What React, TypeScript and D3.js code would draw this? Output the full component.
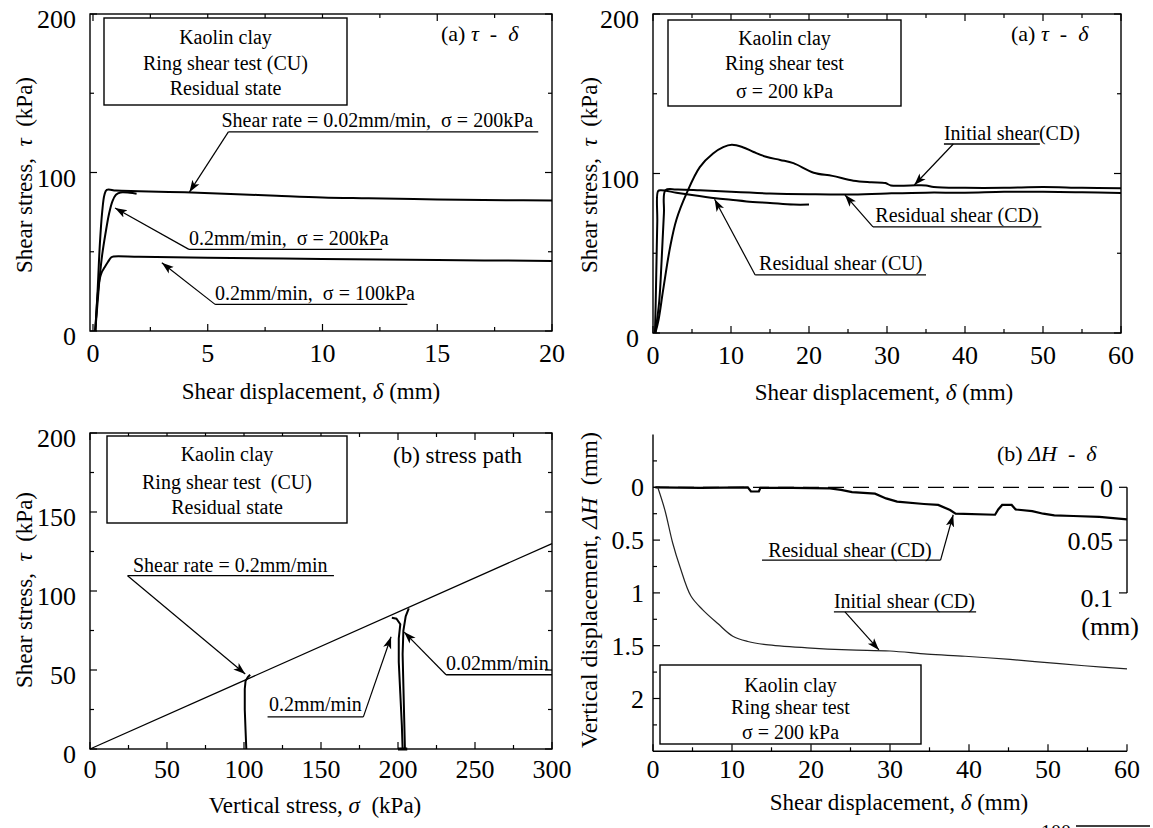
import * as d3 from "d3";

type Pt = [number, number];

const W = 1153;
const H = 828;
const serif = "Liberation Serif, Times New Roman, Times, serif";

// ---- top left: (a) tau - delta, CU residual state
const p1XTicks = [0, 5, 10, 15, 20];
const p1XMinor = [2.5, 7.5, 12.5, 17.5];
const p1YTicks = [0, 100, 200];
const p1YMinor = [50, 150];
const rate002Sigma200: Pt[] = [
  [0.1, 0], [0.2, 25], [0.3, 55], [0.4, 75], [0.5, 86], [0.6, 89], [1.0, 88.6],
  [2, 88.2], [4, 87.5], [6, 86.5], [8, 85.3], [10, 84.2], [12, 83.7], [15, 83], [18, 82.5], [20, 82.3],
];
const rate02Sigma200: Pt[] = [
  [0.1, 0], [0.2, 18], [0.3, 35], [0.4, 48], [0.55, 62], [0.7, 74], [0.85, 82],
  [1.0, 86], [1.2, 87.4], [1.6, 87.2], [1.9, 86.6],
];
const rate02Sigma100: Pt[] = [
  [0.1, 0], [0.15, 12], [0.2, 22], [0.28, 32], [0.38, 37], [0.5, 40], [0.65, 43.5],
  [0.8, 46.5], [0.9, 47], [2, 46.8], [5, 46.2], [10, 45.5], [15, 44.8], [20, 44.2],
];

// ---- top right: (a) tau - delta, sigma = 200 kPa
const p2XTicks = [0, 10, 20, 30, 40, 50, 60];
const p2XMinor = [5, 15, 25, 35, 45, 55];
const p2YTicks = [0, 100, 200];
const p2YMinor = [50, 150];
const initialShearCD: Pt[] = [
  [0.3, 0], [0.7, 8], [1.3, 27], [2.2, 54], [3.0, 71], [4.3, 87.5], [6.0, 104], [7.7, 112.5],
  [9, 116.5], [10.1, 118], [11.5, 116.5], [12.9, 113.5], [14.5, 110.5], [16.3, 108.5], [18, 106.5],
  [20.6, 100.5], [23, 98.5], [25.7, 95.5], [28, 94.5], [29.8, 94], [30.5, 92.5], [33, 92.5],
  [35, 92.5], [36, 91.5], [40, 91], [45, 91], [50, 91.5], [55, 91], [60, 90.8],
];
const residualShearCD: Pt[] = [
  [0.3, 0], [0.8, 20], [1.1, 45], [1.4, 75], [1.6, 89.5], [3, 90], [6, 89.5], [10, 88.5],
  [15, 87.5], [20, 87], [25, 86.8], [30, 87.5], [35, 88], [40, 88], [45, 88.5], [50, 88.5],
  [55, 88.2], [60, 87.8],
];
const residualShearCU: Pt[] = [
  [0.25, 0], [0.35, 20], [0.45, 45], [0.55, 70], [0.65, 89], [1, 89.5], [3, 88], [5, 86.5],
  [8, 84.5], [10, 83.5], [12, 82.5], [15, 81.5], [18, 80.5], [20, 80.5],
];

// ---- bottom left: (b) stress path
const p3XTicks = [0, 50, 100, 150, 200, 250, 300];
const p3XMinor = [25, 75, 125, 175, 225, 275];
const p3YTicks = [0, 50, 100, 150, 200];
const p3YMinor = [25, 75, 125, 175];
const failureLine: Pt[] = [[0, 0], [300, 130]];
const path100: Pt[] = [[101.5, 0], [101, 12], [100.5, 25], [100.5, 38], [101, 43], [102.5, 45.5], [104, 47]];
const path200Rate02: Pt[] = [
  [203, 0], [202.5, 15], [201.5, 35], [200.5, 55], [200.5, 70], [201.5, 79], [199, 82.5], [196, 83],
];
const path200Rate002: Pt[] = [[204.5, 0], [204, 20], [203.5, 40], [203, 60], [203.5, 75], [205, 84], [207, 89]];
const pathBase: Pt[] = [[200, 0], [206, 0]];

// ---- bottom right: (b) delta H - delta
const p4XTicks = [0, 10, 20, 30, 40, 50, 60];
const p4XMinor = [5, 15, 25, 35, 45, 55];
const p4YTicks = [0, 0.5, 1, 1.5, 2];
const p4YMinor = [-0.25, 0.25, 0.75, 1.25, 1.75, 2.25];
const p4YRightTicks = [0, 0.05, 0.1];
const p4YRightLabels = ["0", "0.05", "0.1"];
const dhInitialCD: Pt[] = [
  [0.6, 0], [1.5, 0.215], [2.5, 0.53], [3.4, 0.75], [4.8, 1.03], [6.3, 1.16], [8.2, 1.29],
  [10.1, 1.41], [12, 1.46], [14.3, 1.49], [19.5, 1.52], [24.8, 1.54], [30, 1.55], [34.7, 1.58],
  [39.5, 1.6], [45.2, 1.63], [49.9, 1.66], [54.6, 1.69], [60, 1.72],
];
const dhResidualCD: Pt[] = [
  [0.3, 0], [6, 0.0005], [12, 0], [12.4, 0.004], [13.4, 0.004], [13.6, 0.0005], [17.6, 0.0005],
  [22.4, 0.001], [23.8, 0.0025], [25.2, 0.0045], [28.1, 0.006], [29.5, 0.0105], [30.9, 0.0136],
  [34.3, 0.0158], [36.1, 0.0167], [37.6, 0.0215], [38.3, 0.025], [43.3, 0.026], [43.7, 0.021],
  [44.2, 0.0167], [45.4, 0.0167], [45.9, 0.021], [48, 0.0225], [49.4, 0.025], [50.8, 0.0266],
  [53.2, 0.0272], [56.5, 0.028], [60, 0.0304],
];

const p1x = d3.scaleLinear().domain([-0.13, 20]).range([90, 552]);
const p1y = d3.scaleLinear().domain([0, 200]).range([331, 14]);
const p2x = d3.scaleLinear().domain([0, 60]).range([653, 1121]);
const p2y = d3.scaleLinear().domain([0, 200]).range([333, 14]);
const p3x = d3.scaleLinear().domain([0, 300]).range([90, 552]);
const p3y = d3.scaleLinear().domain([0, 200]).range([749, 433]);
const p4x = d3.scaleLinear().domain([0, 60]).range([653, 1127]);
const p4y = d3.scaleLinear().domain([-0.5, 2.5]).range([434.5, 751.3]);
const p4yR = d3.scaleLinear().domain([0, 0.1]).range([487.3, 592.9]);

type Scale = d3.ScaleLinear<number, number>;

function pathOf(data: Pt[], x: Scale, y: Scale, smooth = true) {
  const gen = d3.line<Pt>().x((d) => x(d[0])).y((d) => y(d[1]));
  if (smooth) gen.curve(d3.curveCatmullRom.alpha(0.5));
  return gen(data) || "";
}

function Frame({ x, y, xMajor, xMinor, yMajor, yMinor, xLabDy }: {
  x: Scale; y: Scale; xMajor: number[]; xMinor: number[]; yMajor: number[]; yMinor: number[]; xLabDy: number;
}) {
  const [x0, x1] = x.range();
  const [y0, y1] = y.range();
  const ticks: any[] = [];
  const add = (v: number, len: number, axis: "x" | "y", k: string) => {
    if (axis === "x") {
      const px = x(v);
      ticks.push(<line key={"b" + k} x1={px} x2={px} y1={y0} y2={y0 - len} />);
      ticks.push(<line key={"t" + k} x1={px} x2={px} y1={y1} y2={y1 + len} />);
    } else {
      const py = y(v);
      ticks.push(<line key={"l" + k} x1={x0} x2={x0 + len} y1={py} y2={py} />);
      ticks.push(<line key={"r" + k} x1={x1} x2={x1 - len} y1={py} y2={py} />);
    }
  };
  xMajor.forEach((v, i) => add(v, 7, "x", "M" + i));
  xMinor.forEach((v, i) => add(v, 4, "x", "m" + i));
  yMajor.forEach((v, i) => add(v, 7, "y", "M" + i));
  yMinor.forEach((v, i) => add(v, 4, "y", "m" + i));
  return (
    <g>
      <rect x={x0} y={y1} width={x1 - x0} height={y0 - y1} fill="none" stroke="#000" strokeWidth={1.4} />
      <g stroke="#000" strokeWidth={1.2}>{ticks}</g>
      <g style={{ fontSize: 26, fontFamily: serif }} fill="#000">
        {xMajor.map((v) => (
          <text key={"xl" + v} x={x(v)} y={y0 + xLabDy} textAnchor="middle">{v}</text>
        ))}
        {yMajor.map((v) => (
          <text key={"yl" + v} x={x0 - 14} y={y(v) + 14} textAnchor="end">{v}</text>
        ))}
      </g>
    </g>
  );
}

function TextBox({ x0, y0, x1, y1, lines }: { x0: number; y0: number; x1: number; y1: number; lines: [string, number][] }) {
  return (
    <g>
      <rect x={x0} y={y0} width={x1 - x0} height={y1 - y0} fill="#fff" stroke="#000" strokeWidth={1.4} />
      {lines.map(([t, by], i) => (
        <text key={i} x={(x0 + x1) / 2} y={by} textAnchor="middle"
          style={{ fontSize: 20, fontFamily: serif, whiteSpace: "pre" }}>{t}</text>
      ))}
    </g>
  );
}

function Note({ text, tx, ty, ux, uy, from, to, x, y }: {
  text: string; tx: number; ty: number; ux: [number, number]; uy: number; from: Pt; to: Pt; x: Scale; y: Scale;
}) {
  return (
    <g>
      <text x={x(tx)} y={y(ty)} style={{ fontSize: 20, fontFamily: serif, whiteSpace: "pre" }}>{text}</text>
      <line x1={x(ux[0])} x2={x(ux[1])} y1={y(uy)} y2={y(uy)} stroke="#000" strokeWidth={1.3} />
      <line x1={x(from[0])} y1={y(from[1])} x2={x(to[0])} y2={y(to[1])} stroke="#000" strokeWidth={1.2} markerEnd="url(#arr)" />
    </g>
  );
}

function YTitle({ cx, cy, children, size = 23 }: { cx: number; cy: number; children: any; size?: number }) {
  return (
    <text transform={`translate(${cx},${cy}) rotate(-90)`} textAnchor="middle" dominantBaseline="central"
      style={{ fontSize: size, fontFamily: serif, whiteSpace: "pre" }}>{children}</text>
  );
}

function Label({ x, y, size = 23, anchor = "start", children }: {
  x: number; y: number; size?: number; anchor?: string; children: any;
}) {
  return (
    <text x={x} y={y} textAnchor={anchor as any} style={{ fontSize: size, fontFamily: serif, whiteSpace: "pre" }}>
      {children}
    </text>
  );
}

export default function App() {
  return (
    <svg width={W} height={H} style={{ position: "absolute", left: 0, top: 0, background: "#fff", fontFamily: serif }}>
      <defs>
        <marker id="arr" viewBox="0 0 12 10" refX={12} refY={5} markerWidth={12} markerHeight={10}
          markerUnits="userSpaceOnUse" orient="auto">
          <path d="M0,0.8 L12,5 L0,9.2 L3,5 Z" fill="#000" />
        </marker>
      </defs>
      <rect width={W} height={H} fill="#fff" />

      {/* ---------- panel 1 ---------- */}
      <Frame x={p1x} y={p1y} xMajor={p1XTicks} xMinor={p1XMinor} yMajor={p1YTicks} yMinor={p1YMinor} xLabDy={31} />
      <g fill="none" stroke="#000" strokeWidth={2}>
        <path d={pathOf(rate002Sigma200, p1x, p1y)} />
        <path d={pathOf(rate02Sigma200, p1x, p1y)} />
        <path d={pathOf(rate02Sigma100, p1x, p1y)} />
      </g>
      <TextBox x0={104} y0={18} x1={347} y1={105}
        lines={[["Kaolin clay", 44], ["Ring shear test (CU)", 70], ["Residual state", 95]]} />
      <Label x={441} y={41} size={22}>
        (a) <tspan fontStyle="italic">τ</tspan>  -  <tspan fontStyle="italic">δ</tspan>
      </Label>
      <Note x={p1x} y={p1y} text="Shear rate = 0.02mm/min,  σ = 200kPa" tx={5.6} ty={128.5}
        ux={[5.9, 19.4]} uy={125.6} from={[5.9, 125.6]} to={[4.2, 87.6]} />
      <Note x={p1x} y={p1y} text="0.2mm/min,  σ = 200kPa" tx={4.18} ty={54.3}
        ux={[4.18, 12.6]} uy={51.5} from={[4.18, 51.5]} to={[0.96, 77.6]} />
      <Note x={p1x} y={p1y} text="0.2mm/min,  σ = 100kPa" tx={5.32} ty={19.6}
        ux={[5.32, 13.7]} uy={16.8} from={[5.32, 16.8]} to={[3.0, 43]} />
      <YTitle cx={24} cy={175}>Shear stress,  <tspan fontStyle="italic">τ</tspan>  (kPa)</YTitle>
      <Label x={311} y={399} anchor="middle">
        Shear displacement, <tspan fontStyle="italic">δ</tspan> (mm)
      </Label>

      {/* ---------- panel 2 ---------- */}
      <Frame x={p2x} y={p2y} xMajor={p2XTicks} xMinor={p2XMinor} yMajor={p2YTicks} yMinor={p2YMinor} xLabDy={31} />
      <g fill="none" stroke="#000" strokeWidth={2}>
        <path d={pathOf(initialShearCD, p2x, p2y)} />
        <path d={pathOf(residualShearCD, p2x, p2y)} />
        <path d={pathOf(residualShearCU, p2x, p2y)} />
      </g>
      <TextBox x0={668} y0={20} x1={901} y1={106}
        lines={[["Kaolin clay", 45], ["Ring shear test", 70], ["σ = 200 kPa", 98]]} />
      <Label x={1011} y={41} size={22}>
        (a) <tspan fontStyle="italic">τ</tspan>  -  <tspan fontStyle="italic">δ</tspan>
      </Label>
      <Note x={p2x} y={p2y} text="Initial shear(CD)" tx={37.3} ty={121}
        ux={[37.3, 49.6]} uy={118.5} from={[38.5, 118.5]} to={[33.5, 92.8]} />
      <Note x={p2x} y={p2y} text="Residual shear (CD)" tx={28.5} ty={69.6}
        ux={[28.2, 49.8]} uy={66.5} from={[28.2, 66.5]} to={[24.6, 86.6]} />
      <Note x={p2x} y={p2y} text="Residual shear (CU)" tx={13.6} ty={39.5}
        ux={[13.1, 35]} uy={36.4} from={[13.1, 36.4]} to={[7.9, 83.8]} />
      <YTitle cx={589} cy={175}>Shear stress,  <tspan fontStyle="italic">τ</tspan>  (kPa)</YTitle>
      <Label x={884} y={400} anchor="middle">
        Shear displacement, <tspan fontStyle="italic">δ</tspan> (mm)
      </Label>

      {/* ---------- panel 3 ---------- */}
      <Frame x={p3x} y={p3y} xMajor={p3XTicks} xMinor={p3XMinor} yMajor={p3YTicks} yMinor={p3YMinor} xLabDy={29} />
      <path d={pathOf(failureLine, p3x, p3y, false)} fill="none" stroke="#000" strokeWidth={1.3} />
      <g fill="none" stroke="#000" strokeWidth={2}>
        <path d={pathOf(path100, p3x, p3y, false)} />
        <path d={pathOf(path200Rate02, p3x, p3y, false)} />
        <path d={pathOf(path200Rate002, p3x, p3y, false)} />
        <path d={pathOf(pathBase, p3x, p3y, false)} strokeWidth={3} />
      </g>
      <TextBox x0={107} y0={436} x1={347} y1={523}
        lines={[["Kaolin clay", 461], ["Ring shear test  (CU)", 489], ["Residual state", 514]]} />
      <Label x={393} y={463}>(b) stress path</Label>
      <Note x={p3x} y={p3y} text="Shear rate = 0.2mm/min" tx={27.9} ty={112.2}
        ux={[24.4, 158.4]} uy={109.7} from={[24.4, 109.7]} to={[100.8, 47.5]} />
      <Note x={p3x} y={p3y} text="0.2mm/min" tx={116.2} ty={23.8}
        ux={[115.3, 177.5]} uy={20.3} from={[177.5, 20.3]} to={[195.5, 71]} />
      <Note x={p3x} y={p3y} text="0.02mm/min" tx={231.2} ty={50.1}
        ux={[231.2, 300]} uy={47} from={[231.2, 47]} to={[204, 74]} />
      <YTitle cx={24} cy={590}>Shear stress,  <tspan fontStyle="italic">τ</tspan>  (kPa)</YTitle>
      <Label x={315} y={813} anchor="middle">
        Vertical stress, <tspan fontStyle="italic">σ</tspan>  (kPa)
      </Label>

      {/* ---------- panel 4 ---------- */}
      <g stroke="#000" strokeWidth={1.4} fill="none">
        <line x1={p4x(0)} x2={p4x(0)} y1={p4y(-0.5)} y2={p4y(2.5)} />
        <line x1={p4x(0)} x2={p4x(60)} y1={p4y(2.5)} y2={p4y(2.5)} />
        <line x1={p4x(60)} x2={p4x(60)} y1={p4yR(0)} y2={p4yR(0.1)} />
      </g>
      <g stroke="#000" strokeWidth={1.2}>
        {p4XTicks.map((v) => (
          <line key={"a" + v} x1={p4x(v)} x2={p4x(v)} y1={p4y(2.5)} y2={p4y(2.5) - 7} />
        ))}
        {p4XMinor.map((v) => (
          <line key={"b" + v} x1={p4x(v)} x2={p4x(v)} y1={p4y(2.5)} y2={p4y(2.5) - 4} />
        ))}
        {p4YTicks.map((v) => (
          <line key={"c" + v} x1={p4x(0)} x2={p4x(0) + 7} y1={p4y(v)} y2={p4y(v)} />
        ))}
        {p4YMinor.map((v) => (
          <line key={"d" + v} x1={p4x(0)} x2={p4x(0) + 4} y1={p4y(v)} y2={p4y(v)} />
        ))}
        {p4YRightTicks.map((v) => (
          <line key={"e" + v} x1={p4x(60)} x2={p4x(60) - 8} y1={p4yR(v)} y2={p4yR(v)} />
        ))}
      </g>
      <g style={{ fontSize: 26, fontFamily: serif }}>
        {p4XTicks.map((v) => (
          <text key={"f" + v} x={p4x(v)} y={p4y(2.5) + 27} textAnchor="middle">{v}</text>
        ))}
        {p4YTicks.map((v) => (
          <text key={"g" + v} x={p4x(0) - 9} y={p4y(v) + 9} textAnchor="end">{v}</text>
        ))}
        {p4YRightTicks.map((v, i) => (
          <text key={"h" + v} x={p4x(60) - 14} y={p4yR(v) + (i === 2 ? 14 : 10)} textAnchor="end">{p4YRightLabels[i]}</text>
        ))}
        <text x={p4x(60) + 12} y={p4yR(0.1) + 42} textAnchor="end">(mm)</text>
      </g>
      <line x1={p4x(0)} x2={p4x(56.5)} y1={p4y(0)} y2={p4y(0)} stroke="#000" strokeWidth={1.3} strokeDasharray="16,9" />
      <path d={pathOf(dhResidualCD, p4x, p4yR, false)} fill="none" stroke="#000" strokeWidth={2.2} />
      <path d={pathOf(dhInitialCD, p4x, p4y)} fill="none" stroke="#222" strokeWidth={1.2} />
      <TextBox x0={660} y0={665} x1={921} y1={744}
        lines={[["Kaolin clay", 692], ["Ring shear test", 714], ["σ = 200 kPa", 739]]} />
      <Label x={997} y={461} size={22}>
        (b) <tspan fontStyle="italic">ΔH</tspan>  -  <tspan fontStyle="italic">δ</tspan>
      </Label>
      <Note x={p4x} y={p4y} text="Residual shear (CD)" tx={14.6} ty={0.657}
        ux={[13.8, 36.4]} uy={0.69} from={[36.4, 0.69]} to={[38.0, 0.26]} />
      <Note x={p4x} y={p4y} text="Initial shear (CD)" tx={22.9} ty={1.146}
        ux={[22.9, 40.9]} uy={1.18} from={[24.3, 1.18]} to={[28.6, 1.54]} />
      <YTitle cx={589} cy={590} size={24}>
        Vertical displacement, <tspan fontStyle="italic">ΔH</tspan>  (mm)
      </YTitle>
      <Label x={899} y={810} anchor="middle">
        Shear displacement, <tspan fontStyle="italic">δ</tspan> (mm)
      </Label>

      {/* cut-off fragment of the next figure */}
      <Label x={1041} y={839} size={20}>100</Label>
      <line x1={1076} x2={1150} y1={826} y2={826} stroke="#000" strokeWidth={1.5} />
    </svg>
  );
}
